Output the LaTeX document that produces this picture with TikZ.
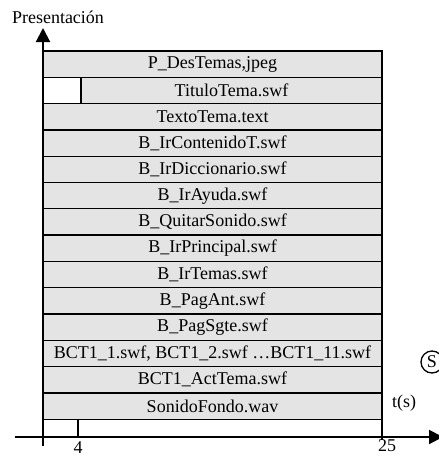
\documentclass[tikz,border=0pt]{standalone}
\usepackage{fontspec}
\setmainfont{Liberation Serif}
\usetikzlibrary{arrows.meta,positioning}
\definecolor{fondo}{HTML}{E4E4E4}
\begin{document}
\begin{tikzpicture}[x=1pt,y=-1pt, every node/.style={font=\fontsize{18}{20}\selectfont},
  fila/.style={draw=black,line width=1.3pt,fill=fondo,rectangle,minimum height=26.3pt,
    minimum width=339pt,inner sep=0pt,outer sep=0pt,anchor=north west},
  eje/.style={line width=2pt,-{Triangle[width=14pt,length=14pt]}},
  marca/.style={line width=1.3pt}]
  \clip (0,0) rectangle (439,458);
  % filas
  \node[fila] (r1) at (43,51) {P\_DesTemas,jpeg};
  \node[fila,minimum width=301pt] (r2) at (81,77.3) {TituloTema.swf};
  \node[fila,fill=white,minimum width=38pt] (hueco) at (43,77.3) {};
  \foreach \n/\txt in {3/TextoTema.text, 4/B\_IrContenidoT.swf, 5/B\_IrDiccionario.swf,
    6/B\_IrAyuda.swf, 7/B\_QuitarSonido.swf, 8/B\_IrPrincipal.swf, 9/B\_IrTemas.swf,
    10/B\_PagAnt.swf, 11/B\_PagSgte.swf, 12/{BCT1\_1.swf, BCT1\_2.swf …BCT1\_11.swf},
    13/BCT1\_ActTema.swf, 14/SonidoFondo.wav}
    \node[fila] (r\n) at (43,{51+(\n-1)*26.3}) {\txt};
  % ejes
  \coordinate (ybase) at (43,446); \coordinate (ytope) at (43,28);
  \coordinate (xini) at (15,437); \coordinate (xfin) at (443,437);
  \draw[eje] (ybase) -- (ytope);
  \draw[eje] (xini) -- (xfin);
  \coordinate (m4) at (78,437); \coordinate (m25) at (382,440);
  \draw[marca] (r14.south west -| m4) -- (m4);
  \draw[marca] (r14.south east) -- (m25);
  % etiquetas
  \node (tit) at (58,17) {Presentación};
  \node[inner sep=1pt] (l4) at (78,448) {4};
  \node (l25) at (387,446) {25};
  \node (ts) at (404,403) {t(s)};
  \node[draw,circle,line width=1.3pt,minimum size=22pt,inner sep=0pt] (ese) at (432,362) {S};
\end{tikzpicture}
\end{document}
